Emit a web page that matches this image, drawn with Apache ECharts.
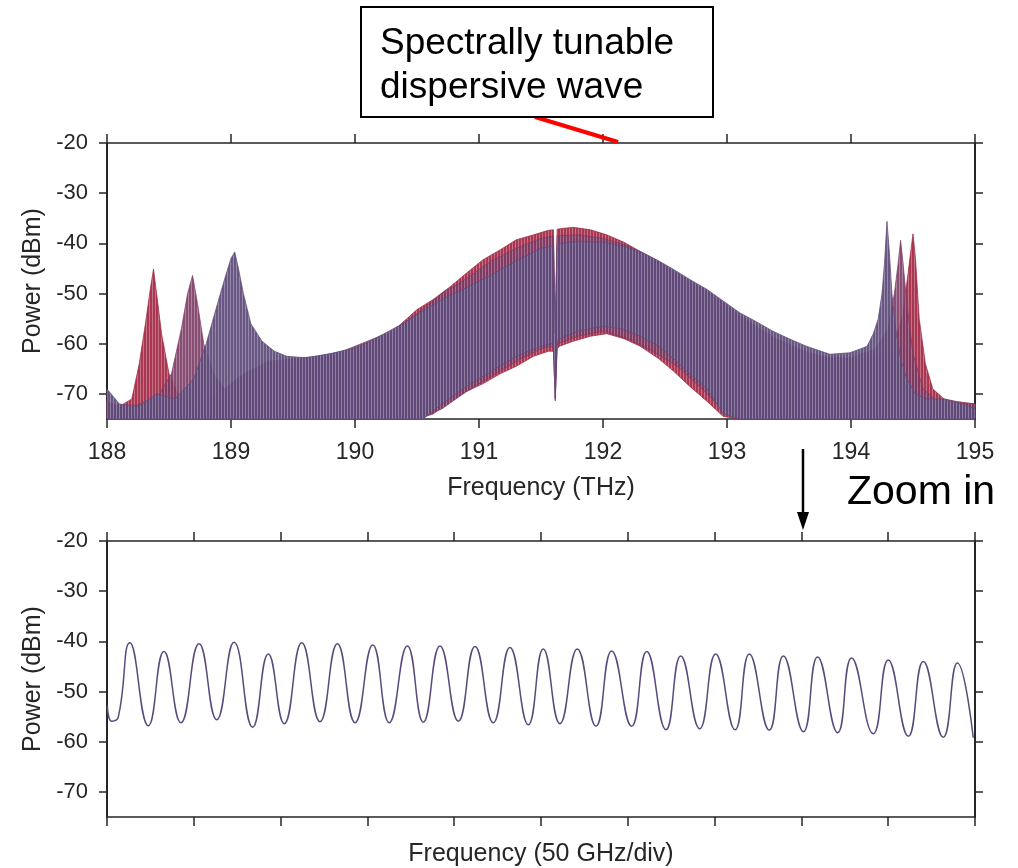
<!DOCTYPE html>
<html>
<head>
<meta charset="utf-8">
<script src="https://cdn.jsdelivr.net/npm/echarts@6/dist/echarts.min.js"></script>
<style>
html,body{margin:0;padding:0;background:#fff;}
#chart{width:1018px;height:868px;}
</style>
</head>
<body>
<div id="chart"></div>
<script>
// ---------- Top panel: spectra envelopes (THz, dBm) ----------
const freqR = [188.00,188.10,188.20,188.26,188.31,188.35,188.375,188.40,188.44,188.50,188.58,188.70,188.90,189.10,189.30,189.50,189.70,189.90,190.10,190.25,190.36,190.50,190.63,190.77,190.90,191.03,191.17,191.30,191.44,191.56,191.60,191.615,191.63,191.65,191.76,191.90,192.03,192.17,192.30,192.45,192.57,192.70,192.84,192.97,193.10,193.25,193.40,193.60,193.80,194.00,194.20,194.35,194.42,194.46,194.49,194.50,194.52,194.55,194.60,194.66,194.75,194.85,195.00];
const upR   = [-71.5,-72.5,-71,-64,-56,-49,-45.1,-50,-58,-66,-70.5,-72,-70,-66,-64,-63.5,-63,-62,-60,-58.5,-56.3,-53.2,-51.2,-48.6,-45.9,-43.3,-41.3,-39.3,-38.3,-37.4,-37.3,-58,-37.2,-37.1,-36.8,-37.3,-38.3,-39.8,-41.6,-43.6,-45.6,-47.5,-49.5,-51.8,-54.2,-56.8,-59,-61.2,-62.8,-63,-62.5,-60,-54,-46,-40,-38.1,-43,-55,-64,-69,-71,-71.5,-72];
const loR   = [-75,-75,-75,-75,-75,-75,-75,-75,-75,-75,-75,-75,-75,-75,-75,-75,-75,-75,-75,-75,-75,-75,-74,-71.5,-69.5,-68,-66,-64.5,-62.5,-61.5,-61.5,-71,-61,-60.5,-59.5,-58.5,-58,-59,-60.5,-63,-65.5,-68.5,-71.5,-74.5,-75,-75,-75,-75,-75,-75,-75,-75,-75,-75,-75,-75,-75,-75,-75,-75,-75,-75,-75];

const freqM = [188.00,188.20,188.40,188.52,188.60,188.65,188.69,188.73,188.78,188.86,188.95,189.10,189.30,189.50,189.70,189.90,190.10,190.30,190.50,190.70,190.90,191.10,191.30,191.50,191.60,191.615,191.63,191.80,192.00,192.20,192.40,192.60,192.80,193.00,193.20,193.40,193.60,193.80,194.00,194.20,194.30,194.35,194.38,194.40,194.42,194.45,194.50,194.58,194.70,195.00];
const upM   = [-72,-72.5,-71,-66,-57,-50,-46.4,-52,-60,-66,-69,-66,-63.5,-63,-62.5,-61.5,-59.5,-57.5,-54,-50,-47,-43.5,-41,-39,-38.6,-58,-38.5,-38.3,-39,-40.5,-43,-46,-49.8,-53.5,-56.8,-59.5,-61.5,-62.8,-62.8,-61,-57,-50,-44,-39.4,-44,-52,-62,-69,-71.5,-72];
const loM   = [-75,-75,-75,-75,-75,-75,-75,-75,-75,-75,-75,-75,-75,-75,-75,-75,-75,-75,-75,-73,-69.5,-66.5,-63.5,-61,-60.5,-71,-60,-58.5,-57.5,-59,-61.5,-64.5,-69,-74,-75,-75,-75,-75,-75,-75,-75,-75,-75,-75,-75,-75,-75,-75,-75,-75];

const freqP = [188.00,188.10,188.25,188.40,188.55,188.70,188.80,188.88,188.95,189.00,189.03,189.06,189.10,189.16,189.25,189.35,189.45,189.60,189.80,190.00,190.10,190.25,190.40,190.55,190.70,190.90,191.10,191.30,191.50,191.58,191.60,191.615,191.63,191.65,191.80,192.00,192.15,192.30,192.45,192.57,192.70,192.84,192.97,193.10,193.25,193.37,193.50,193.64,193.83,193.99,194.08,194.13,194.18,194.22,194.25,194.27,194.29,194.31,194.33,194.36,194.40,194.45,194.52,194.60,194.75,194.90,195.00];
const upP   = [-69,-72,-72.5,-70,-71,-67,-60,-53,-47,-43,-41.7,-45,-50,-56,-59.5,-61.5,-62.5,-62.8,-62,-60.8,-59.8,-57.8,-55.8,-53.5,-51.2,-48.8,-46.3,-43.5,-41,-40.6,-40.5,-58,-40.2,-40,-39.6,-39.8,-40.5,-41.6,-43.5,-45.2,-47.2,-49.2,-51.5,-53.8,-55.8,-57.5,-59,-60.5,-62.1,-61.8,-61,-60.5,-58,-55,-50,-44,-35.6,-42,-50,-57,-63,-67,-70,-71,-71,-72,-73];
const loP   = [-75,-75,-75,-75,-75,-75,-75,-75,-75,-75,-75,-75,-75,-75,-75,-75,-75,-75,-75,-75,-75,-75,-75,-75,-72,-68.5,-65.5,-62.5,-60.5,-60,-60,-71.4,-59.5,-59,-57.5,-56.5,-57,-58.5,-60.5,-63,-66,-69,-74,-75,-75,-75,-75,-75,-75,-75,-75,-75,-75,-75,-75,-75,-75,-75,-75,-75,-75,-75,-75,-75,-75,-75,-75];

const yTicks = [-70,-60,-50,-40,-30,-20];

// ---------- Bottom panel: zoomed fringes (GHz offset, dBm) ----------
const zoomX = [0.2,2.7,6.5,13.2,23.8,32.8,42.6,53.0,63.2,73.2,83.9,92.9,102.1,112.2,122.7,132.7,142.9,153.1,162.6,173.0,182.2,191.8,202.4,212.0,222.5,232.1,242.7,251.3,260.9,270.9,281.7,290.7,302.2,310.9,322.0,330.5,341.4,350.6,361.8,370.0,381.5,389.6,401.2,409.3,420.9,428.9,441.4,450.0,461.6,470.2,481.7,489.8,499.0];
const zoomY = [-52.9,-55.9,-55.1,-40.3,-56.8,-42.0,-56.2,-40.5,-55.6,-40.2,-57.1,-42.5,-56.4,-40.3,-56.0,-40.5,-56.2,-40.7,-56.2,-40.9,-56.1,-40.9,-55.9,-41.0,-56.2,-41.2,-56.6,-41.5,-56.4,-41.5,-56.9,-41.9,-56.9,-42.0,-57.6,-42.9,-57.4,-42.5,-57.6,-42.5,-57.7,-42.9,-58.0,-43.1,-58.2,-43.3,-58.4,-43.7,-58.9,-44.0,-59.1,-44.3,-59.2];

const AX = '#262626';
const FONT = '"Liberation Sans", Arial, sans-serif';

function stripePattern(color, gapAlpha) {
  const c = document.createElement('canvas');
  c.width = 3; c.height = 8;
  const g = c.getContext('2d');
  g.fillStyle = color; g.fillRect(0, 0, 3, 8);
  g.fillStyle = 'rgba(255,255,255,' + gapAlpha + ')'; g.fillRect(2, 0, 1, 8);
  return { image: c, repeat: 'repeat' };
}

function bandSeries(name, fr, up, lo, color, opacity) {
  const data = fr.map((f, i) => [f, up[i], lo[i]]);
  const pat = stripePattern(color, 0.3);
  return {
    name: name,
    type: 'custom',
    xAxisIndex: 0,
    yAxisIndex: 0,
    encode: { x: 0, y: [1, 2] },
    data: data,
    renderItem: function (params, api) {
      if (params.dataIndex !== 0) return null;
      const pts = [];
      for (let i = 0; i < data.length; i++) pts.push(api.coord([data[i][0], data[i][1]]));
      for (let i = data.length - 1; i >= 0; i--) pts.push(api.coord([data[i][0], data[i][2]]));
      return {
        type: 'polygon',
        shape: { points: pts },
        style: { fill: pat, opacity: opacity, stroke: color, lineWidth: 0.8 }
      };
    }
  };
}

function yAx(gridIndex, pos, showLabel, name) {
  return {
    type: 'value', gridIndex: gridIndex, position: pos,
    min: -75, max: -20,
    name: name || '', nameLocation: 'middle', nameGap: 53, nameRotate: 90,
    nameTextStyle: { color: AX, fontSize: 25, fontFamily: FONT },
    axisLine: { show: true, onZero: false, lineStyle: { color: AX, width: 2 } },
    axisTick: { show: true, inside: false, length: 8, customValues: yTicks, lineStyle: { color: AX, width: 1.5 } },
    axisLabel: { show: showLabel, customValues: yTicks, margin: 19, color: AX, fontSize: 22, fontFamily: FONT },
    splitLine: { show: false }
  };
}

function xAx(gridIndex, pos, min, max, interval, showLabel, name, gap) {
  return {
    type: 'value', gridIndex: gridIndex, position: pos,
    min: min, max: max, interval: interval,
    name: name || '', nameLocation: 'middle', nameGap: gap || 0,
    nameTextStyle: { color: AX, fontSize: 25, fontFamily: FONT },
    axisLine: { show: true, onZero: false, lineStyle: { color: AX, width: 1.5 } },
    axisTick: { show: true, inside: false, length: 9, lineStyle: { color: AX, width: 1.5 } },
    axisLabel: { show: showLabel, margin: 22, color: AX, fontSize: 23, fontFamily: FONT },
    splitLine: { show: false }
  };
}

const chart = echarts.init(document.getElementById('chart'), null, { renderer: 'canvas' });
chart.setOption({
  animation: false,
  backgroundColor: '#ffffff',
  grid: [
    { left: 107, top: 143, width: 868, height: 276, containLabel: false, outerBoundsMode: 'none' },
    { left: 107, top: 541, width: 868, height: 276, containLabel: false, outerBoundsMode: 'none' }
  ],
  xAxis: [
    xAx(0, 'bottom', 188, 195, 1, true, 'Frequency (THz)', 57),
    xAx(0, 'top', 188, 195, 1, false),
    xAx(1, 'bottom', 0, 500, 50, false, 'Frequency (50 GHz/div)', 25),
    xAx(1, 'top', 0, 500, 50, false)
  ],
  yAxis: [
    yAx(0, 'left', true, 'Power (dBm)'),
    yAx(0, 'right', false),
    yAx(1, 'left', true, 'Power (dBm)'),
    yAx(1, 'right', false)
  ],
  series: [
    bandSeries('red', freqR, upR, loR, '#a0223f', 0.9),
    bandSeries('mauve', freqM, upM, loM, '#7c3a63', 0.9),
    bandSeries('purple', freqP, upP, loP, '#5e4b7a', 0.93),
    {
      name: 'zoom', type: 'line', xAxisIndex: 2, yAxisIndex: 2,
      data: zoomX.map((x, i) => [x, zoomY[i]]),
      smooth: 0.5, showSymbol: false,
      lineStyle: { color: '#5a4a7c', width: 1.5 }
    }
  ],
  graphic: [
    { type: 'line', shape: { x1: 535, y1: 117, x2: 618, y2: 142 }, style: { stroke: '#ff0000', lineWidth: 4 }, z: 50 },
    { type: 'rect', shape: { x: 361, y: 7, width: 352, height: 110 }, style: { fill: '#ffffff', stroke: '#000000', lineWidth: 2 }, z: 51 },
    { type: 'text', x: 380, y: 44, style: { text: 'Spectrally tunable', fill: '#000', font: '37px "Liberation Sans", Arial, sans-serif', textVerticalAlign: 'middle', verticalAlign: 'middle' }, z: 52 },
    { type: 'text', x: 380, y: 88, style: { text: 'dispersive wave', fill: '#000', font: '37px "Liberation Sans", Arial, sans-serif', textVerticalAlign: 'middle', verticalAlign: 'middle' }, z: 52 },
    { type: 'line', shape: { x1: 803, y1: 449, x2: 803, y2: 514 }, style: { stroke: '#000', lineWidth: 2.5 }, z: 50 },
    { type: 'polygon', shape: { points: [[797, 512], [809, 512], [803, 530]] }, style: { fill: '#000' }, z: 50 },
    { type: 'text', x: 847, y: 493, style: { text: 'Zoom in', fill: '#000', font: '41px "Liberation Sans", Arial, sans-serif', textVerticalAlign: 'middle', verticalAlign: 'middle' }, z: 52 }
  ]
});
</script>
</body>
</html>
